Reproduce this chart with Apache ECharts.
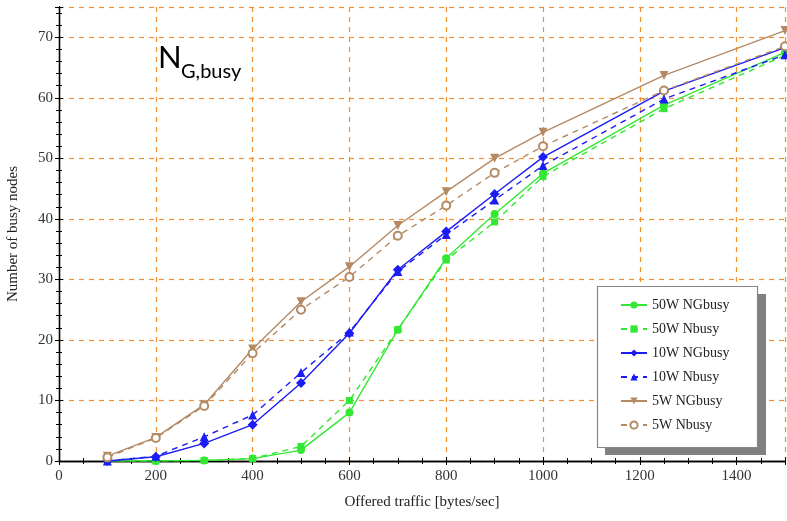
<!DOCTYPE html>
<html>
<head>
<meta charset="utf-8">
<script src="https://cdn.jsdelivr.net/npm/echarts@6/dist/echarts.min.js"></script>
<style>
	html, body { margin: 0; padding: 0; background: #fff; }
	#chart { width: 787px; height: 521px; }
</style>
</head>
<body>
<div id="chart"></div>
<script>
	// offered traffic values (x)
	const traffic = [100, 200, 300, 400, 500, 600, 700, 800, 900, 1000, 1250, 1500];

	// number of busy nodes per series
	const w50NG = [0, 0, 0.1, 0.4, 1.8, 8.0, 21.7, 33.5, 40.8, 47.5, 58.8, 67.5];
	const w50N = [0, 0, 0.1, 0.4, 2.4, 10.0, 21.7, 33.2, 39.5, 47.0, 58.2, 67.0];
	const w10NG = [0, 0.7, 2.9, 6.0, 12.9, 21.1, 31.6, 37.9, 44.1, 50.2, 61.1, 68.3];
	const w10N = [0, 0.8, 4.0, 7.6, 14.6, 21.3, 31.3, 37.4, 43.1, 48.8, 59.8, 67.1];
	const w5NG = [0.8, 3.9, 9.3, 18.5, 26.3, 32.1, 38.9, 44.5, 50.0, 54.3, 63.7, 71.1];
	const w5N = [0.6, 3.8, 9.1, 17.8, 25.0, 30.4, 37.2, 42.2, 47.6, 52.0, 61.2, 68.5];

	const legendNames = ['50W NGbusy', '50W Nbusy', '10W NGbusy', '10W Nbusy', '5W NGbusy', '5W Nbusy'];

	const serifFont = '"Liberation Serif", "DejaVu Serif", serif';
	const gridColor = '#f5902c';

	function pairs(ys) {
		return traffic.map((x, i) => [x, ys[i]]);
	}

	function mkSeries(name, ys, color, dashed, symbol, rotate, size) {
		return {
			name: name,
			type: 'line',
			data: pairs(ys),
			symbol: symbol,
			symbolRotate: rotate || 0,
			symbolSize: size || 8,
			lineStyle: { color: color, width: 1.4, type: dashed ? [6, 5] : 'solid' },
			itemStyle: { color: color, borderColor: color, borderWidth: symbol == 'emptyCircle' ? 1.2 : 0 },
			emphasis: { disabled: true },
			z: 3
		};
	}

	const green = '#33e833';
	const blue = '#1c1cf5';
	const brown = '#b48a64';

	let myChart = echarts.init(document.getElementById('chart'));

	const axisLine = { show: true, lineStyle: { color: '#000', width: 1.3 } };
	const tick = { show: true, inside: true, length: 4, lineStyle: { color: '#000' } };

	myChart.setOption({
		animation: false,
		backgroundColor: '#fff',
		grid: { left: 59, right: 2, top: 7, bottom: 60, outerBoundsMode: 'none', containLabel: false },
		xAxis: [{
			type: 'value', min: 0, max: 1500, interval: 200,
			axisLine: axisLine,
			axisTick: tick,
			minorTick: { show: true, splitNumber: 4, length: 3, lineStyle: { color: '#000' } },
			axisLabel: { color: '#333', fontFamily: serifFont, fontSize: 15, margin: 8,
				formatter: v => (v % 200 === 0 ? String(v) : '') },
			splitLine: { show: true, lineStyle: { color: gridColor, type: [5, 5], width: 1.2 } },
			name: 'Offered traffic [bytes/sec]', nameLocation: 'middle', nameGap: 34,
			nameTextStyle: { color: '#222', fontFamily: serifFont, fontSize: 15 }
		}, {
			type: 'value', position: 'top', min: 0, max: 1500, interval: 200,
			axisLine: axisLine,
			axisTick: tick,
			minorTick: { show: true, splitNumber: 4, length: 3, lineStyle: { color: '#000' } },
			axisLabel: { show: false }, splitLine: { show: false }
		}],
		yAxis: [{
			type: 'value', min: 0, max: 75, interval: 10,
			axisLine: axisLine,
			axisTick: tick,
			minorTick: { show: true, splitNumber: 5, length: 3, lineStyle: { color: '#000' } },
			axisLabel: { color: '#333', fontFamily: serifFont, fontSize: 15, margin: 6,
				formatter: v => (v % 10 === 0 ? v : '') },
			splitLine: { show: true, lineStyle: { color: gridColor, type: [5, 5], width: 1.2 } },
			name: 'Number of busy nodes', nameLocation: 'middle', nameGap: 38,
			nameTextStyle: { color: '#222', fontFamily: serifFont, fontSize: 15 }
		}, {
			type: 'value', position: 'right', min: 0, max: 75, interval: 10,
			axisLine: axisLine,
			axisTick: tick,
			minorTick: { show: true, splitNumber: 5, length: 3, lineStyle: { color: '#000' } },
			axisLabel: { show: false }, splitLine: { show: false }
		}],
		legend: {
			orient: 'vertical',
			left: 620, top: 298,
			padding: 0,
			itemGap: 10,
			itemWidth: 26, itemHeight: 9,
			z: 6,
			textStyle: { color: '#222', fontFamily: serifFont, fontSize: 14, lineHeight: 14 },
			data: legendNames
		},
		graphic: [
			{ type: 'text', left: 158, top: 42, style: { text: 'N', font: '31px Lato, "Open Sans", sans-serif', fill: '#000' } },
			{ type: 'text', left: 181, top: 62, style: { text: 'G,busy', font: '20px Lato, "Open Sans", sans-serif', fill: '#000' } },
			// legend frame with hard shadow
			{ type: 'rect', z: 5, shape: { x: 605, y: 294, width: 161, height: 161 }, style: { fill: '#808080' } },
			{ type: 'rect', z: 5, shape: { x: 597.5, y: 286.5, width: 160, height: 161 }, style: { fill: '#fff', stroke: '#888', lineWidth: 1.2 } }
		],
		series: [
			mkSeries('50W NGbusy', w50NG, green, false, 'circle'),
			mkSeries('50W Nbusy', w50N, green, true, 'rect', 0, 7),
			mkSeries('10W NGbusy', w10NG, blue, false, 'diamond', 0, 10),
			mkSeries('10W Nbusy', w10N, blue, true, 'triangle', 0, 9),
			mkSeries('5W NGbusy', w5NG, brown, false, 'triangle', 180, 9),
			mkSeries('5W Nbusy', w5N, brown, true, 'emptyCircle', 0, 8)
		]
	});
</script>
</body>
</html>
